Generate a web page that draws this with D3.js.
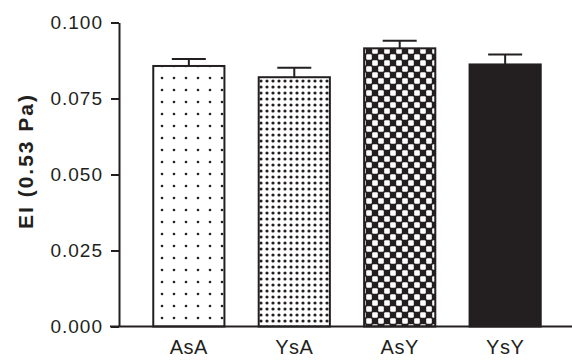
<!DOCTYPE html>
<html>
<head>
<meta charset="utf-8">
<script src="https://cdn.jsdelivr.net/npm/d3@7"></script>
<style>
  body { margin: 0; background: #fff; }
  svg text { font-family: "Liberation Sans", Arial, sans-serif; fill: #231f20; }
</style>
</head>
<body>
<div id="chart"></div>
<script>
// Data
const groups  = ["AsA", "YsA", "AsY", "YsY"];
const means   = [0.0857, 0.0820, 0.0915, 0.0862];
const errs    = [0.0023, 0.0031, 0.0025, 0.0033];
const yTicks  = [0, 0.025, 0.05, 0.075, 0.1];
const fills   = ["url(#dotsSparse)", "url(#dotsDense)", "url(#checker)", "#231f20"];

const width = 572, height = 360;
const ink = "#231f20";

const svg = d3.select("#chart").append("svg")
  .attr("width", width)
  .attr("height", height);

// Patterns
const defs = svg.append("defs");

const p1 = defs.append("pattern")
  .attr("id", "dotsSparse")
  .attr("patternUnits", "userSpaceOnUse")
  .attr("width", 12).attr("height", 12);
p1.append("rect").attr("width", 12).attr("height", 12).attr("fill", "#fff");
p1.append("circle").attr("cx", 6).attr("cy", 6).attr("r", 1.3).attr("fill", ink);

const p2 = defs.append("pattern")
  .attr("id", "dotsDense")
  .attr("patternUnits", "userSpaceOnUse")
  .attr("width", 6).attr("height", 6);
p2.append("rect").attr("width", 6).attr("height", 6).attr("fill", "#fff");
p2.append("circle").attr("cx", 3).attr("cy", 3).attr("r", 1.6).attr("fill", ink);

const p3 = defs.append("pattern")
  .attr("id", "checker")
  .attr("patternUnits", "userSpaceOnUse")
  .attr("width", 12).attr("height", 12);
p3.append("rect").attr("width", 12).attr("height", 12).attr("fill", ink);
p3.append("rect").attr("x", 0.2).attr("y", 0.2).attr("width", 5.6).attr("height", 5.6).attr("rx", 1.2).attr("fill", "#fff");
p3.append("rect").attr("x", 6.2).attr("y", 6.2).attr("width", 5.6).attr("height", 5.6).attr("rx", 1.2).attr("fill", "#fff");

// Scales
const x = d3.scaleBand()
  .domain(groups)
  .range([119, 575])
  .padding(0.325);

const y = d3.scaleLinear()
  .domain([0, 0.1])
  .range([326.5, 22.5]);

// Bars
svg.append("g")
  .selectAll("rect")
  .data(groups)
  .join("rect")
    .attr("x", d => x(d))
    .attr("y", (d, i) => y(means[i]))
    .attr("width", x.bandwidth())
    .attr("height", (d, i) => y(0) - y(means[i]))
    .attr("fill", (d, i) => fills[i])
    .attr("stroke", ink)
    .attr("stroke-width", 2);

// Error bars (upper only)
const eb = svg.append("g")
  .attr("stroke", ink)
  .attr("stroke-width", 2);
groups.forEach((g, i) => {
  const cx = x(g) + x.bandwidth() / 2;
  eb.append("line")
    .attr("x1", cx).attr("x2", cx)
    .attr("y1", y(means[i])).attr("y2", y(means[i] + errs[i]));
  eb.append("line")
    .attr("x1", cx - 17).attr("x2", cx + 17)
    .attr("y1", y(means[i] + errs[i])).attr("y2", y(means[i] + errs[i]));
});

// Y axis
const yAxis = svg.append("g")
  .attr("transform", "translate(119,0)")
  .call(d3.axisLeft(y)
    .tickValues(yTicks)
    .tickFormat(d3.format(".3f"))
    .tickSize(8)
    .tickSizeOuter(0)
    .tickPadding(8));
yAxis.selectAll("path, line").attr("stroke", ink).attr("stroke-width", 2);
yAxis.selectAll("text")
  .style("font-size", "19px")
  .style("letter-spacing", "1px");

// X baseline
svg.append("line")
  .attr("x1", 110).attr("x2", width)
  .attr("y1", y(0)).attr("y2", y(0))
  .attr("stroke", ink)
  .attr("stroke-width", 2);

// X axis labels
const xAxis = svg.append("g")
  .attr("transform", `translate(0,${y(0)})`)
  .call(d3.axisBottom(x).tickSize(0).tickPadding(13.5));
xAxis.select(".domain").remove();
xAxis.selectAll("text")
  .style("font-size", "20px")
  .style("letter-spacing", "0.5px");

// Y axis title
svg.append("text")
  .attr("transform", "translate(33,161) rotate(-90)")
  .attr("text-anchor", "middle")
  .style("font-size", "21px")
  .style("font-weight", "bold")
  .style("letter-spacing", "2px")
  .text("EI (0.53 Pa)");
</script>
</body>
</html>
